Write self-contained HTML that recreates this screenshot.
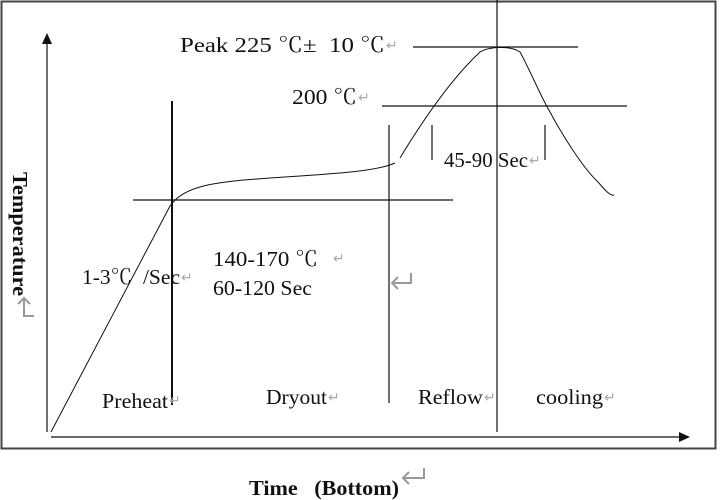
<!DOCTYPE html>
<html><head><meta charset="utf-8"><style>
html,body{margin:0;padding:0;background:#fff;width:720px;height:500px;overflow:hidden}
text{font-family:"Liberation Serif","Noto Serif CJK SC",serif;font-size:21px;fill:#111}
.r{fill:#aaa;font-family:"Liberation Sans",sans-serif;font-size:14px}
</style></head><body>
<svg width="720" height="500" viewBox="0 0 720 500" xmlns="http://www.w3.org/2000/svg">
<rect x="1.5" y="1.5" width="714" height="447" fill="none" stroke="#444" stroke-width="2"/>
<g stroke="#111" fill="none" stroke-width="1.2">
<line x1="47" y1="42" x2="47" y2="432"/>
<line x1="51" y1="437" x2="680" y2="437"/>
<line x1="133" y1="200" x2="453" y2="200"/>
<line x1="172" y1="101" x2="172" y2="405" stroke-width="2"/>
<line x1="389" y1="125" x2="389" y2="403"/>
<line x1="497" y1="0" x2="497" y2="432"/>
<line x1="413" y1="47" x2="578" y2="47"/>
<line x1="382" y1="106" x2="627" y2="106"/>
<line x1="432" y1="125" x2="432" y2="160"/>
<line x1="545" y1="125" x2="545" y2="160"/>
<path d="M51 432 L170 206 C185 185 215 182 270 178 C330 174 375 172 395 163" stroke-width="1"/>
<path d="M400 158 C420 125 450 80 480 52 C488 47 510 45 520 52 C530 70 540 95 550 112 C565 140 585 170 598 182 C605 190 610 196 614 195" stroke-width="1"/>
</g>
<polygon points="47,33 42,44 52,44" fill="#111"/>
<polygon points="690,437 679,432 679,442" fill="#111"/>
<text x="180" y="52" textLength="205" lengthAdjust="spacingAndGlyphs">Peak 225 ℃± &#160;10 ℃</text><text class="r" x="386" y="50">↵</text>
<text x="292" y="104" textLength="65" lengthAdjust="spacingAndGlyphs">200 ℃</text><text class="r" x="358" y="102">↵</text>
<text x="444" y="167" textLength="84" lengthAdjust="spacingAndGlyphs">45-90 Sec</text><text class="r" x="529" y="165">↵</text>
<text x="213" y="266" textLength="105" lengthAdjust="spacingAndGlyphs">140-170 ℃</text><text class="r" x="333" y="263">↵</text>
<text x="213" y="295" textLength="99" lengthAdjust="spacingAndGlyphs">60-120 Sec</text>
<text x="82" y="284" textLength="98" lengthAdjust="spacingAndGlyphs">1-3℃ &#160;/Sec</text><text class="r" x="181" y="282">↵</text>
<text x="102" y="408" textLength="66" lengthAdjust="spacingAndGlyphs">Preheat</text><text class="r" x="169" y="405">↵</text>
<text x="266" y="404" textLength="61" lengthAdjust="spacingAndGlyphs">Dryout</text><text class="r" x="328" y="402">↵</text>
<text x="418" y="404" textLength="65" lengthAdjust="spacingAndGlyphs">Reflow</text><text class="r" x="484" y="402">↵</text>
<text x="536" y="404" textLength="67" lengthAdjust="spacingAndGlyphs">cooling</text><text class="r" x="604" y="402">↵</text>
<text x="249" y="495" style="font-weight:bold" textLength="150" lengthAdjust="spacingAndGlyphs">Time &#160;&#160;(Bottom)</text>
<g stroke="#999" stroke-width="2" fill="none">
<path d="M424 468 V478 H403 M409 472 L403 478 L409 484"/>
<path d="M411 273 V283 H392 M398 277 L392 283 L398 289"/>
<path d="M34 316 H24 V298 M18 304 L24 298 L30 304"/>
</g>
<text transform="translate(13,172) rotate(90)" style="font-weight:bold" textLength="124" lengthAdjust="spacingAndGlyphs">Temperature</text>
</svg>
</body></html>
